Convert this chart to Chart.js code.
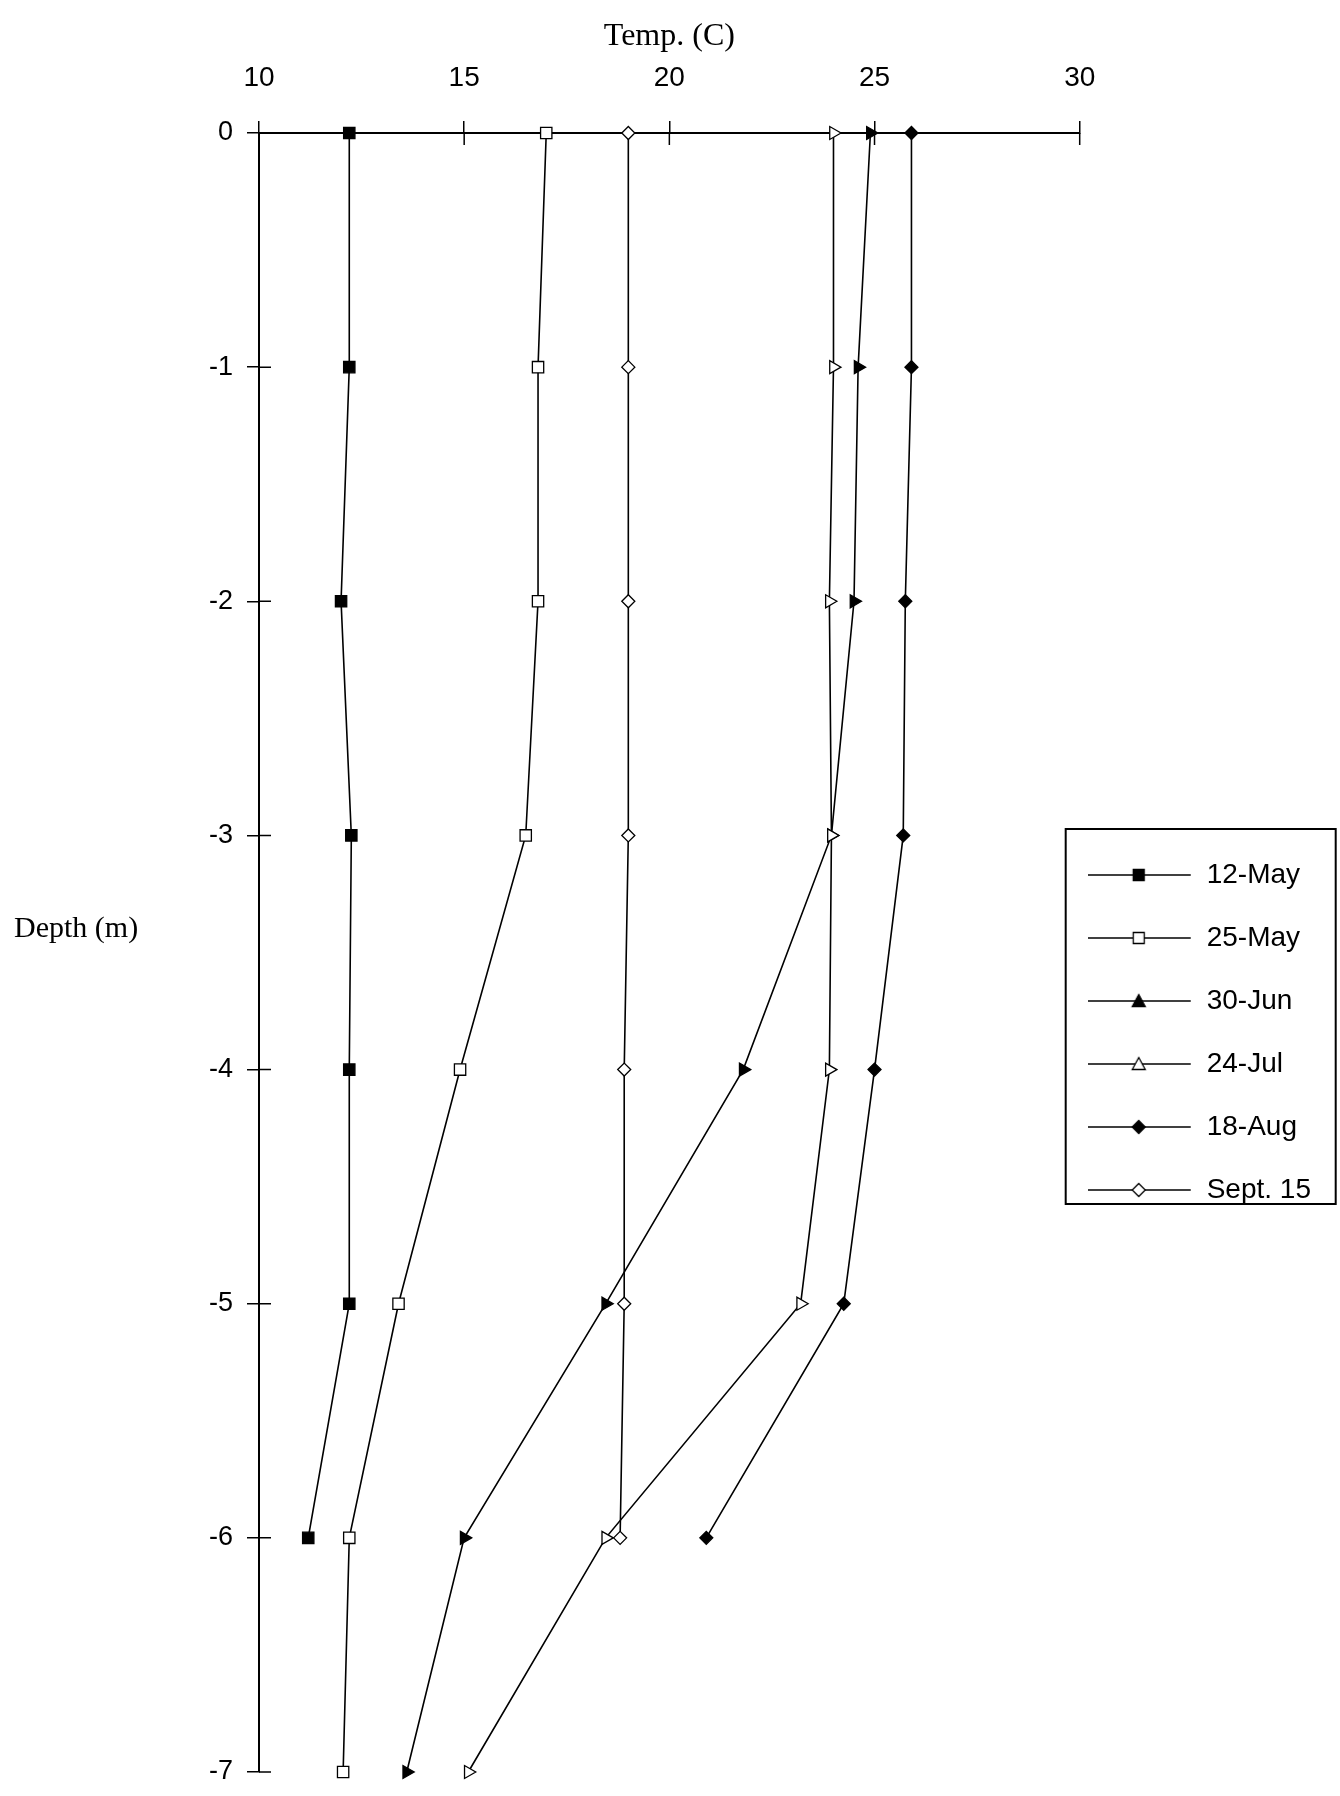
<!DOCTYPE html>
<html>
<head>
<meta charset="utf-8">
<script src="https://cdn.jsdelivr.net/npm/chart.js@4.4.1/dist/chart.umd.min.js"></script>
<style>
html,body{margin:0;padding:0;background:#fff;}
#wrap{width:1340px;height:1796px;position:relative;}
</style>
</head>
<body>
<div id="wrap"><canvas id="c" width="1340" height="1796"></canvas></div>
<script>
// ---- data ----
const depths = [0, -1, -2, -3, -4, -5, -6, -7];
const seriesLabels = ['12-May', '25-May', '30-Jun', '24-Jul', '18-Aug', 'Sept. 15'];
const may12 = [12.2, 12.2, 12.0, 12.25, 12.2, 12.2, 11.2];
const may25 = [17.0, 16.8, 16.8, 16.5, 14.9, 13.4, 12.2, 12.05];
const jun30 = [24.9, 24.6, 24.5, 23.95, 21.8, 18.45, 15.0, 13.6];
const jul24 = [24.0, 24.0, 23.9, 23.95, 23.9, 23.2, 18.45, 15.1];
const aug18 = [25.9, 25.9, 25.75, 25.7, 25.0, 24.25, 20.9];
const sep15 = [19.0, 19.0, 19.0, 19.0, 18.9, 18.9, 18.8];
const tempTicks = [10, 15, 20, 25, 30];
const depthTicks = [0, -1, -2, -3, -4, -5, -6, -7];
const xTitle = 'Temp. (C)';
const yTitle = 'Depth (m)';

const seriesValues = [may12, may25, jun30, jul24, aug18, sep15];

// ---- styles ----
const SANS = '"Liberation Sans", Arial, sans-serif';
const SERIF = '"Liberation Serif", "Times New Roman", serif';
const markerStyles = [
  {shape: 'rect', fill: '#000', radius: 8, rotation: 0},
  {shape: 'rect', fill: '#fff', radius: 8, rotation: 0},
  {shape: 'triangle', fill: '#000', radius: 7.5, rotation: 90},
  {shape: 'triangle', fill: '#fff', radius: 7.5, rotation: 90},
  {shape: 'rectRot', fill: '#000', radius: 6.5, rotation: 0},
  {shape: 'rectRot', fill: '#fff', radius: 6.5, rotation: 0}
];

function makeLegendIcon(st) {
  const c = document.createElement('canvas');
  c.width = 132; c.height = 22;
  const g = c.getContext('2d');
  g.strokeStyle = '#000';
  g.lineWidth = 1.6;
  g.beginPath(); g.moveTo(0, 11); g.lineTo(103, 11); g.stroke();
  const cx = 51, cy = 11;
  g.fillStyle = st.fill;
  g.lineWidth = 1.3;
  g.beginPath();
  if (st.shape === 'rect') {
    g.rect(cx - 5.5, cy - 5.5, 11, 11);
  } else if (st.shape === 'triangle') {
    g.moveTo(cx, cy - 6.5); g.lineTo(cx + 6.5, cy + 5.5); g.lineTo(cx - 6.5, cy + 5.5); g.closePath();
  } else {
    g.moveTo(cx, cy - 6.5); g.lineTo(cx + 6.5, cy); g.lineTo(cx, cy + 6.5); g.lineTo(cx - 6.5, cy); g.closePath();
  }
  g.fill(); g.stroke();
  return c;
}
const legendIcons = markerStyles.map(makeLegendIcon);

const datasets = seriesLabels.map((lab, i) => {
  const st = markerStyles[i];
  return {
    label: lab,
    data: seriesValues[i].map((t, k) => ({x: t, y: depths[k]})),
    showLine: true,
    clip: false,
    borderColor: '#000',
    borderWidth: 1.6,
    tension: 0,
    fill: false,
    pointStyle: st.shape,
    pointRadius: st.radius,
    pointHoverRadius: st.radius,
    pointRotation: st.rotation,
    pointBackgroundColor: st.fill,
    pointBorderColor: '#000',
    pointBorderWidth: 1.3,
    order: lab === '30-Jun' ? 1 : 0
  };
});

// inside halves of the crossing tick marks
const crossTicks = {
  id: 'crossTicks',
  afterDraw(chart) {
    const {ctx, chartArea, scales} = chart;
    ctx.save();
    ctx.strokeStyle = '#000';
    ctx.lineWidth = 1.5;
    ctx.beginPath();
    scales.x.ticks.forEach(t => {
      const px = scales.x.getPixelForValue(t.value);
      ctx.moveTo(px, chartArea.top); ctx.lineTo(px, chartArea.top + 12);
    });
    scales.y.ticks.forEach(t => {
      const py = scales.y.getPixelForValue(t.value);
      ctx.moveTo(chartArea.left, py); ctx.lineTo(chartArea.left + 12, py);
    });
    ctx.stroke();
    ctx.restore();
  }
};

// horizontal y-axis title and legend frame
const extras = {
  id: 'extras',
  afterDraw(chart) {
    const ctx = chart.ctx;
    ctx.save();
    ctx.fillStyle = '#000';
    ctx.font = '30px ' + SERIF;
    ctx.textAlign = 'left';
    ctx.textBaseline = 'middle';
    ctx.fillText(yTitle, 14, 929);
    const lg = chart.legend;
    const hb = lg.legendHitBoxes;
    if (hb && hb.length) {
      const first = hb[0], last = hb[hb.length - 1];
      const top = first.top + first.height / 2 - 46;
      const bottom = last.top + last.height / 2 + 14;
      const left = lg.left - 14;
      const right = lg.left + 256;
      ctx.strokeStyle = '#000';
      ctx.lineWidth = 2;
      ctx.strokeRect(left, top, right - left, bottom - top);
    }
    ctx.restore();
  }
};

new Chart(document.getElementById('c'), {
  type: 'scatter',
  data: {datasets},
  options: {
    responsive: false,
    animation: false,
    devicePixelRatio: 1,
    layout: {padding: {top: 0, left: 0, right: 19, bottom: 0}},
    plugins: {
      tooltip: {enabled: false},
      legend: {
        display: true,
        position: 'right',
        fullSize: false,
        align: 'center',
        title: {display: true, text: '', font: {size: 10, lineHeight: 1}, padding: {top: 150, bottom: 0}},
        labels: {
          usePointStyle: true,
          pointStyleWidth: 78,
          padding: 35,
          color: '#000',
          font: {family: SANS, size: 28},
          generateLabels: chart => chart.data.datasets.map((ds, i) => ({
            text: ds.label,
            pointStyle: legendIcons[i],
            rotation: 0,
            fillStyle: '#000',
            strokeStyle: '#000',
            lineWidth: 0,
            fontColor: '#000',
            hidden: false,
            datasetIndex: i
          }))
        }
      }
    },
    scales: {
      x: {
        type: 'linear',
        position: 'top',
        min: 10, max: 30,
        afterBuildTicks: s => { s.ticks = tempTicks.map(v => ({value: v})); },
        afterFit: s => { s.height = 133; },
        grid: {display: true, drawOnChartArea: false, drawTicks: true, tickLength: 12, color: '#000', lineWidth: 1.5},
        border: {display: true, color: '#000', width: 2},
        ticks: {color: '#000', font: {family: SANS, size: 28}, padding: 26, maxRotation: 0, autoSkip: false},
        title: {display: true, text: xTitle, color: '#000', font: {family: SERIF, size: 32}, padding: {top: 17, bottom: 0}}
      },
      y: {
        type: 'linear',
        position: 'left',
        min: -7, max: 0,
        afterBuildTicks: s => { s.ticks = depthTicks.map(v => ({value: v})); },
        afterFit: s => { s.width = 259; s.paddingBottom = 24; },
        grid: {display: true, drawOnChartArea: false, drawTicks: true, tickLength: 12, color: '#000', lineWidth: 1.5},
        border: {display: true, color: '#000', width: 2},
        ticks: {color: '#000', font: {family: SANS, size: 27}, padding: 14, autoSkip: false}
      }
    }
  },
  plugins: [crossTicks, extras]
});
</script>
</body>
</html>
